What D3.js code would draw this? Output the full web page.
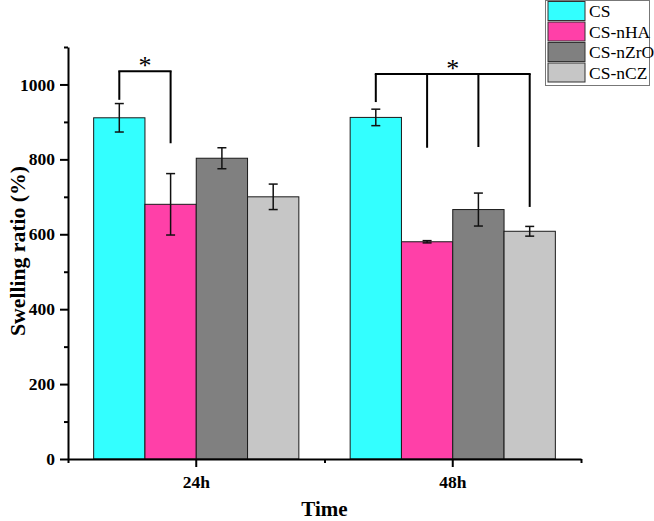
<!DOCTYPE html>
<html><head><meta charset="utf-8">
<script src="https://cdn.jsdelivr.net/npm/d3@7/dist/d3.min.js"></script>
<style>body{margin:0;background:#fff}svg{display:block}</style>
</head><body>
<svg id="c" width="654" height="521"></svg>
<script>
const categories = ["24h", "48h"];
const series = ["CS", "CS-nHA", "CS-nZrO", "CS-nCZ"];
const colors = ["#33FFFF", "#FF40A8", "#808080", "#C6C6C6"];
const means24 = [911, 680, 803, 700];
const err24 = [38, 82, 28, 34];
const means48 = [912, 580, 666, 608];
const err48 = [22, 3, 44, 13];
const yMajorTicks = [0, 200, 400, 600, 800, 1000];
const yMinorTicks = [100, 300, 500, 700, 900, 1100];
// significance brackets: group, series indices, top value, leg end values
const brackets = [
  {cat: "24h", idx: [0, 1], top: 1035, ends: [959, 843]},
  {cat: "48h", idx: [0, 1, 2, 3], top: 1028, ends: [953, 831, 833, 673]}
];

const data = [];
categories.forEach((c, ci) => {
  const m = ci === 0 ? means24 : means48, e = ci === 0 ? err24 : err48;
  series.forEach((s, si) => data.push({cat: c, s, si, v: m[si], e: e[si]}));
});

const svg = d3.select("#c");
const font = "'Liberation Serif','Times New Roman',serif";
const x = d3.scaleBand().domain(categories).range([68, 581]).padding(0);
const x1 = d3.scaleBand().domain(series).range([0, x.bandwidth()]).paddingInner(0).paddingOuter(0.5);
const y = d3.scaleLinear().domain([0, 1100]).range([459, 47]);

// bars
svg.append("g").selectAll("rect").data(data).join("rect")
  .attr("x", d => x(d.cat) + x1(d.s))
  .attr("y", d => y(d.v))
  .attr("width", x1.bandwidth())
  .attr("height", d => y(0) - y(d.v))
  .attr("fill", d => colors[d.si])
  .attr("stroke", "#1a1a1a").attr("stroke-width", 1);

// error bars
const eg = svg.append("g").attr("stroke", "#111").attr("stroke-width", 1.5);
data.forEach(d => {
  const cx = x(d.cat) + x1(d.s) + x1.bandwidth() / 2;
  eg.append("line").attr("x1", cx).attr("x2", cx).attr("y1", y(d.v + d.e)).attr("y2", y(d.v - d.e));
  [d.v + d.e, d.v - d.e].forEach(v =>
    eg.append("line").attr("x1", cx - 4.5).attr("x2", cx + 4.5).attr("y1", y(v)).attr("y2", y(v)));
});

// axes
const yAxis = svg.append("g").attr("transform", "translate(68,0)")
  .call(d3.axisLeft(y).tickValues(yMajorTicks).tickFormat(d3.format("d")).tickSize(8).tickPadding(5).tickSizeOuter(0));
const yMinor = svg.append("g").attr("transform", "translate(68,0)")
  .call(d3.axisLeft(y).tickValues(yMinorTicks).tickSize(4).tickFormat("").tickSizeOuter(0));
yMinor.select(".domain").remove();
const xAxis = svg.append("g").attr("transform", "translate(0,459)")
  .call(d3.axisBottom(x).tickSize(8).tickPadding(6).tickSizeOuter(0));
const xMinor = svg.append("g").attr("transform", "translate(0,459)")
  .call(d3.axisBottom(d3.scaleLinear().domain([0, 2]).range([68, 581])).tickValues([0, 1, 2]).tickSize(4).tickFormat("").tickSizeOuter(0));
xMinor.select(".domain").remove();
svg.selectAll(".domain, .tick line").attr("stroke", "#000").attr("stroke-width", 2);
svg.selectAll(".tick text").attr("fill", "#000").style("font-family", font).style("font-weight", "bold").style("font-size", "17.5px");
xAxis.selectAll(".tick text").attr("dy", "0.85em");

// axis titles
svg.append("text").attr("x", 324.5).attr("y", 516).attr("text-anchor", "middle")
  .style("font-family", font).style("font-weight", "bold").style("font-size", "21px").text("Time");
svg.append("text").attr("transform", "translate(25,251) rotate(-90)").attr("text-anchor", "middle")
  .style("font-family", font).style("font-weight", "bold").style("font-size", "21px")
  .attr("textLength", 170).attr("lengthAdjust", "spacingAndGlyphs").text("Swelling ratio (%)");

// significance brackets
const bg = svg.append("g").attr("stroke", "#000").attr("stroke-width", 2).attr("fill", "none");
brackets.forEach(b => {
  const xs = b.idx.map(i => x(b.cat) + x1(series[i]) + x1.bandwidth() / 2);
  bg.append("line").attr("x1", xs[0] - 1).attr("x2", xs[xs.length - 1] + 1).attr("y1", y(b.top)).attr("y2", y(b.top));
  xs.forEach((cx, k) => bg.append("line").attr("x1", cx).attr("x2", cx).attr("y1", y(b.top)).attr("y2", y(b.ends[k])));
  svg.append("text").attr("x", (xs[0] + xs[xs.length - 1]) / 2).attr("y", y(b.top) + 3)
    .attr("text-anchor", "middle").style("font-family", font).style("font-size", "26px").text("*");
});

// legend
const lg = svg.append("g");
lg.append("rect").attr("x", 545.5).attr("y", 0.5).attr("width", 104).attr("height", 85)
  .attr("fill", "#fff").attr("stroke", "#777").attr("stroke-width", 1);
series.forEach((s, i) => {
  const ry = 1.5 + i * 20.5;
  lg.append("rect").attr("x", 548).attr("y", ry).attr("width", 37).attr("height", 19)
    .attr("fill", colors[i]).attr("stroke", "#333").attr("stroke-width", 1);
  lg.append("text").attr("x", 589).attr("y", ry + 15.5).style("font-family", font).style("font-size", "17.5px").text(s);
});
</script>
</body></html>
